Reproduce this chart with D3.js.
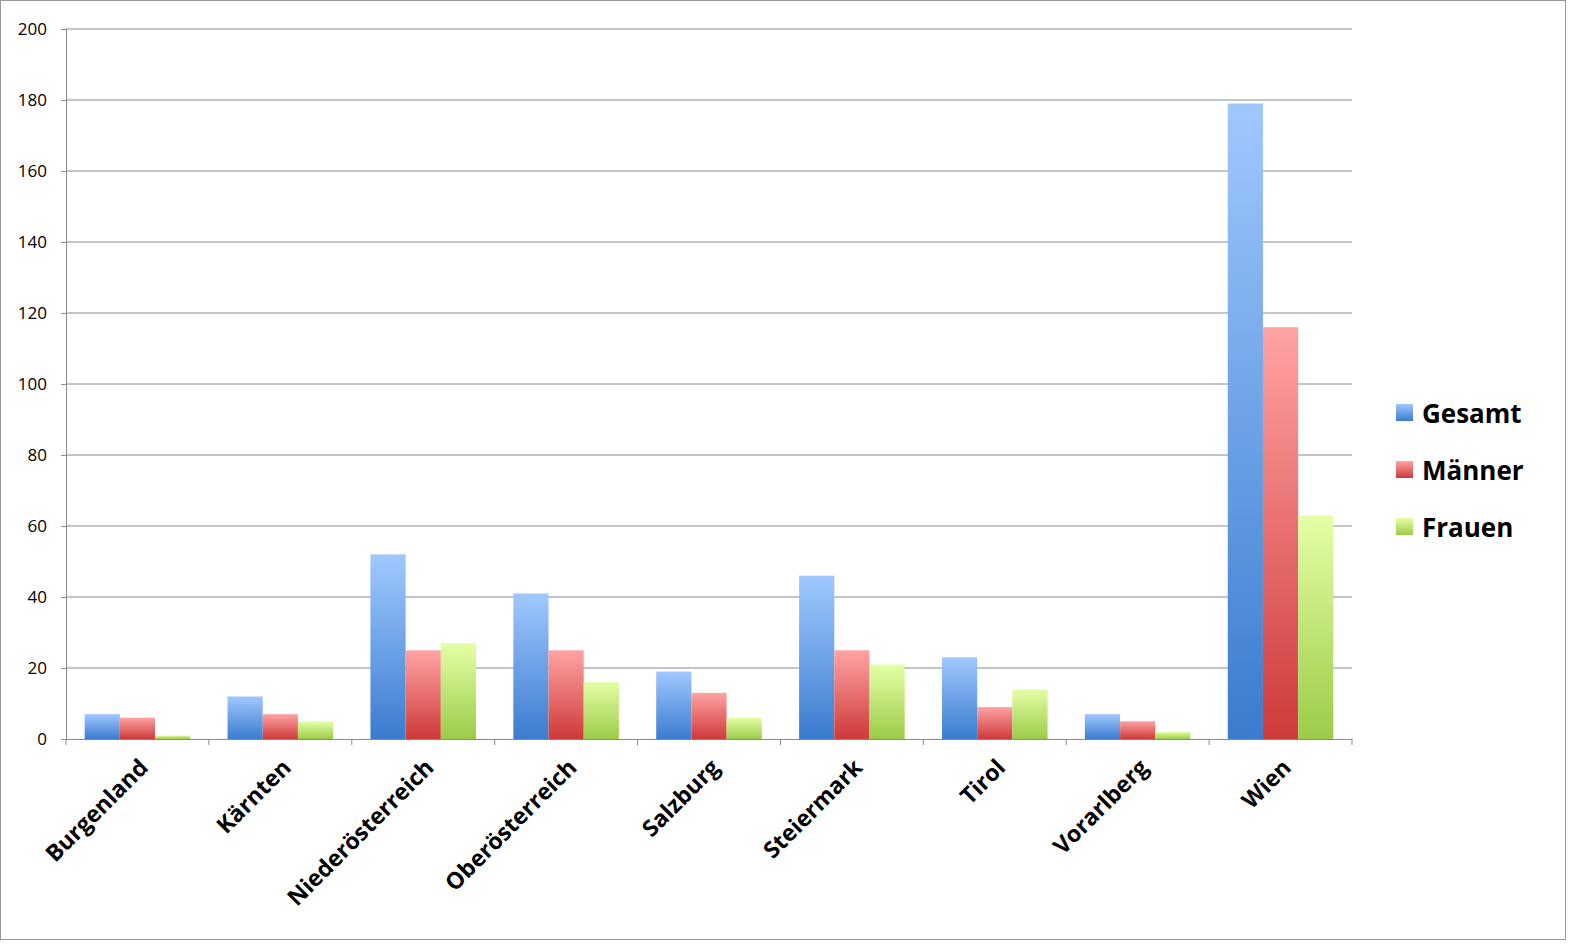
<!DOCTYPE html><html><head><meta charset="utf-8"><script src="https://cdn.jsdelivr.net/npm/d3@7"></script>
<style>body{margin:0;background:#fff}</style></head><body><svg id="c" width="1576" height="946"></svg><script>
const categories=["Burgenland","Kärnten","Niederösterreich","Oberösterreich","Salzburg","Steiermark","Tirol","Vorarlberg","Wien"];
const seriesNames=["Gesamt","Männer","Frauen"];
const gesamt=[7,12,52,41,19,46,23,7,179];
const maenner=[6,7,25,25,13,25,9,5,116];
const frauen=[1,5,27,16,6,21,14,2,63];
const yTicks=[0,20,40,60,80,100,120,140,160,180,200];
const values=[gesamt,maenner,frauen];
const cols=[["#a0c8ff","#3a7ccf"],["#ffa3a3","#cf3a3a"],["#e4ffa6","#9ccb48"]];
const svg=d3.select("#c");
svg.append("rect").attr("x",0.5).attr("y",0.5).attr("width",1565).attr("height",939).attr("fill","none").attr("stroke","#999");
const L=66,R=1352,T=29,B=739;
const x=d3.scaleBand().domain(categories).range([L,R]);
const xs=d3.scaleBand().domain(seriesNames).range([0,x.bandwidth()]).paddingOuter(0.53).paddingInner(0);
const y=d3.scaleLinear().domain([0,200]).range([B,T]);
const defs=svg.append("defs");
cols.forEach((c,i)=>{const g=defs.append("linearGradient").attr("id","g"+i).attr("x1",0).attr("y1",0).attr("x2",0).attr("y2",1);
g.append("stop").attr("offset","0%").attr("stop-color",c[0]);g.append("stop").attr("offset","100%").attr("stop-color",c[1]);});
svg.append("g").selectAll("line").data(yTicks.slice(1)).join("line").attr("x1",L).attr("x2",R).attr("y1",d=>y(d)).attr("y2",d=>y(d)).attr("stroke","#8a8a8a").attr("stroke-width",1);
const ya=svg.append("g").attr("transform",`translate(${L},0)`).call(d3.axisLeft(y).tickValues(yTicks).tickSize(5).tickPadding(14));
ya.select(".domain").attr("stroke","#8a8a8a");ya.selectAll(".tick line").attr("stroke","#8a8a8a");
ya.selectAll("text").attr("font-family","Open Sans, sans-serif").attr("font-size",17).attr("fill","#000");
seriesNames.forEach((s,i)=>{
 svg.append("g").selectAll("rect").data(categories).join("rect")
 .attr("x",d=>x(d)+xs(s)).attr("width",xs.bandwidth()).attr("y",(d,j)=>y(values[i][j])).attr("height",(d,j)=>B-y(values[i][j]))
 .attr("fill",`url(#g${i})`);
});
const xa=svg.append("g").attr("transform",`translate(0,${B})`).call(d3.axisBottom(x).tickSize(0).tickFormat(""));
xa.select(".domain").attr("stroke","#8a8a8a");
svg.append("g").selectAll("line").data(d3.range(categories.length+1)).join("line").attr("x1",i=>L+i*x.step()).attr("x2",i=>L+i*x.step()).attr("y1",B).attr("y2",B+6).attr("stroke","#8a8a8a");
svg.append("g").selectAll("text").data(categories).join("text")
 .attr("transform",d=>`translate(${x(d)+x.bandwidth()/2+12},${B+30}) rotate(-45)`).attr("text-anchor","end")
 .attr("font-family","Open Sans, sans-serif").attr("font-weight","bold").attr("font-size",23).text(d=>d);
const lg=svg.append("g");
seriesNames.forEach((s,i)=>{
 const yy=414+i*57;
 lg.append("rect").attr("x",1396).attr("y",yy-10).attr("width",17).attr("height",17).attr("fill",`url(#g${i})`);
 lg.append("text").attr("x",1422).attr("y",yy+9).attr("font-family","Open Sans, sans-serif").attr("font-weight","bold").attr("font-size",26).text(s);
});
</script></body></html>
